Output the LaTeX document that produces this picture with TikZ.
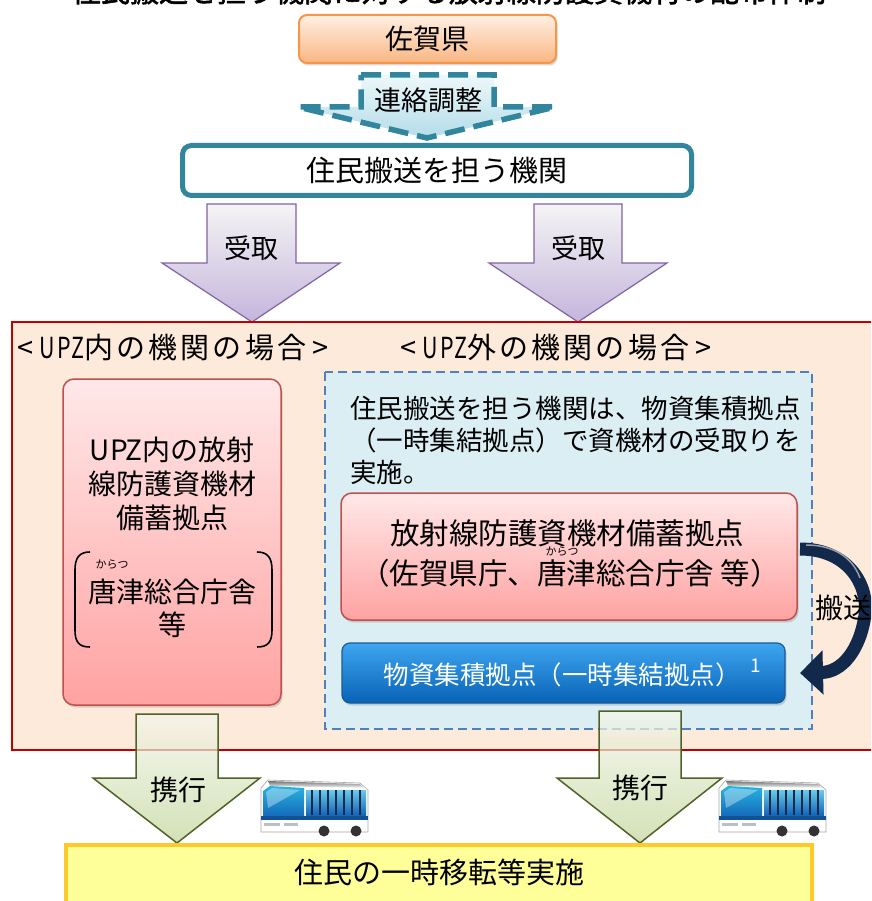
\documentclass[tikz,border=0pt]{standalone}
\usepackage{fontspec}
\setmainfont{Noto Sans CJK JP}
\newfontfamily\titlefont{Noto Sans CJK JP}[FakeBold=2]
\newfontfamily\labfont{Noto Sans CJK JP}[LetterSpace=11]
\usetikzlibrary{shadows,arrows.meta}
\definecolor{orbd}{HTML}{F79646}
\definecolor{ortop}{HTML}{FFF0E4}
\definecolor{orbot}{HTML}{F9B682}
\definecolor{teal}{HTML}{31859C}
\definecolor{ltbtop}{HTML}{EEF8FB}
\definecolor{ltbbot}{HTML}{B3DCE8}
\definecolor{purbd}{HTML}{8064A2}
\definecolor{purtop}{HTML}{F4F4F4}
\definecolor{purbot}{HTML}{C4B5DC}
\definecolor{regfill}{HTML}{FDEADA}
\definecolor{regbd}{HTML}{C00000}
\definecolor{pkbd}{HTML}{C0504D}
\definecolor{pktop}{HTML}{FFE8E8}
\definecolor{pkbot}{HTML}{FFA2A2}
\definecolor{dbfill}{HTML}{DAEEF3}
\definecolor{dbbd}{HTML}{4F81BD}
\definecolor{bltop}{HTML}{3EA6F0}
\definecolor{blbot}{HTML}{0862B6}
\definecolor{blbd}{HTML}{1B5A96}
\definecolor{navy}{HTML}{13294B}
\definecolor{grbd}{HTML}{4F6228}
\definecolor{grtop}{HTML}{F4F6EC}
\definecolor{grbot}{HTML}{C3D69B}
\definecolor{yefill}{HTML}{FFFF99}
\definecolor{yebd}{HTML}{FFC929}
\definecolor{buswin}{HTML}{27B4E0}
\definecolor{buswin2}{HTML}{1466B8}
\tikzset{
  f28/.style={font=\fontsize{28}{34}\selectfont},
  f27/.style={font=\fontsize{27}{32}\selectfont},
  shad/.style={drop shadow={shadow xshift=1.5pt,shadow yshift=-2.5pt,opacity=0.3}},
  sagabox/.style={draw=orbd,line width=2pt,rounded corners=8pt,top color=ortop,bottom color=orbot,shad,f28,minimum width=257pt,minimum height=48pt},
  kikanbox/.style={draw=teal,line width=5pt,rounded corners=9pt,fill=white,font=\fontsize{29}{34}\selectfont,minimum width=509pt,minimum height=50pt},
  dasharrow/.style={draw=teal,line width=5.5pt,dash pattern=on 20pt off 9pt,top color=ltbtop,bottom color=ltbbot},
  purarrow/.style={draw=purbd,line width=1.2pt,top color=purtop,bottom color=purbot,line join=miter},
  region/.style={draw=regbd,line width=2pt,fill=regfill},
  pinkbox/.style={draw=pkbd,line width=1.5pt,rounded corners=11pt,top color=pktop,bottom color=pkbot,shad},
  dashbox/.style={draw=dbbd,line width=2.5pt,dash pattern=on 9pt off 5pt,fill=dbfill},
  bluebox/.style={draw=blbd,line width=1.2pt,rounded corners=8pt,top color=bltop,bottom color=blbot,shad},
  grarrow/.style={draw=grbd,line width=1.5pt,top color=grtop,bottom color=grbot,fill opacity=0.72,line join=miter},
  yebox/.style={draw=yebd,line width=4.5pt,fill=yefill},
  txt/.style={inner sep=0pt,f28},
  lab/.style={inner sep=0pt,anchor=west,font=\labfont\fontsize{29}{32}\selectfont},
  ruby/.style={inner sep=0pt,font=\fontsize{11}{12}\selectfont},
  brk/.style={draw=black,line width=1.6pt},
}
\newcommand\upz{\scalebox{0.74}[1]{UPZ}}
\newcommand\drawbus[2]{%
\begin{scope}[shift={(#1,#2)}]
  \path[draw=black!35,line width=0.6pt,fill=white] (1,10) -- (8,2) -- (100,5) -- (108,12) -- (108,54) -- (1,54) -- cycle;
  \path[top color=black!55,bottom color=white] (8,3) -- (100,6) -- (104,10) -- (10,8) -- cycle;
  \path[top color=buswin,bottom color=buswin2] (3,13) -- (10,8) -- (44,10) -- (44,38) -- (3,40) -- cycle;
  \path[fill=white,opacity=0.35] (6,14) -- (12,10) -- (40,12) -- (8,30) -- cycle;
  \path[top color=buswin!70!white,bottom color=buswin2] (46,12) rectangle (106,37);
  \foreach \xx in {52,60,68,76,84,92,100}{\draw[navy,line width=1.3pt] (\xx,12) -- (\xx,37);}
  \path[fill=buswin2!80!black] (1,38) rectangle (108,42);
  \path[fill=black!25] (4,45) rectangle (20,48);
  \path[fill=black!25] (24,45) rectangle (38,48);
  \path[fill=black!80] (64,53) circle (5.5);
  \path[fill=black!80] (96,53) circle (5.5);
\end{scope}}
\begin{document}
\begin{tikzpicture}[x=1pt,y=-1pt]
\useasboundingbox (0,0) rectangle (871,901);
\clip (0,0) rectangle (871,901);
\path[fill=white] (0,0) rectangle (871,901);
% title (cut off at top, as in the source)
\node[font=\titlefont\fontsize{29}{32}\selectfont,inner sep=0pt] (title) at (449,-9) {住民搬送を担う機関に対する放射線防護資機材の配布体制};
% Saga prefecture
\node[sagabox] (saga) at (427.5,39) {佐賀県};
% dashed arrow
\path[dasharrow] (361,75) -- (494,75) -- (494,107) -- (555,107) -- (427,138) -- (298,107) -- (361,107) -- cycle;
\node[f27,inner sep=0pt] (renraku) at (428,100) {連絡調整};
% transport body
\node[kikanbox] (kikan) at (437,170.5) {住民搬送を担う機関};
% purple arrows
\path[purarrow] (207,204) -- (296,204) -- (296,263) -- (340,263) -- (252,322) -- (162,263) -- (207,263) -- cycle;
\path[purarrow] (534,204) -- (622,204) -- (622,263) -- (667,263) -- (578,322) -- (489,263) -- (534,263) -- cycle;
\node[f27,inner sep=0pt] (uke1) at (251.5,248) {受取};
\node[f27,inner sep=0pt] (uke2) at (578,248) {受取};
% region
\path[region] (12,322) rectangle (885,750);
\node[lab] (lab1) at (17,348) {<\hspace{6pt}\upz 内の機関の場合\hspace{6pt}>};
\node[lab] (lab2) at (400,348) {<\hspace{6pt}\upz 外の機関の場合\hspace{6pt}>};
% left pink box
\path[pinkbox] (63,379) rectangle (281,705);
\node[txt,align=center] (lt) at (172,484) {UPZ内の放射\\線防護資機材\\備蓄拠点};
\path[brk] (90,552) .. controls (79,552) and (75,558) .. (75,570) -- (75,630) .. controls (75,642) and (79,647) .. (90,647);
\path[brk] (257,552) .. controls (268,552) and (272,558) .. (272,570) -- (272,630) .. controls (272,642) and (268,647) .. (257,647);
\node[ruby] (rb1) at (112,565) {からつ};
\node[txt] (kara1) at (172,592) {唐津総合庁舎};
\node[txt] (tou1) at (172,625) {等};
% dashed blue box
\path[dashbox] (325,372) rectangle (812,729);
\node[inner sep=0pt,anchor=west,font=\fontsize{26.5}{32}\selectfont] (d1) at (350,408) {住民搬送を担う機関は、物資集積拠点};
\node[inner sep=0pt,anchor=west,font=\fontsize{26.5}{32}\selectfont] (d2) at (350,440) {（一時集結拠点）で資機材の受取りを};
\node[inner sep=0pt,anchor=west,font=\fontsize{26.5}{32}\selectfont] (d3) at (350,472) {実施。};
% pink box 2
\path[pinkbox] (341,493) rectangle (797,620);
\node[inner sep=0pt,font=\fontsize{29.5}{34}\selectfont] (p1) at (567,533) {放射線防護資機材備蓄拠点};
\node[ruby] (rb2) at (562,552) {からつ};
\node[inner sep=0pt,font=\fontsize{29.5}{34}\selectfont] (p2) at (570,573) {（佐賀県庁、唐津総合庁舎 等）};
% blue box
\node[bluebox,minimum width=443pt,minimum height=60pt] (blue) at (563.5,673) {};
\node[inner sep=0pt,text=white,font=\fontsize{25.5}{28}\selectfont] (bt) at (562,675) {物資集積拠点（一時集結拠点）};
\node[inner sep=0pt,text=white,font=\fontsize{19}{20}\selectfont] (sup1) at (756,666) {1};
% curved arrow
\coordinate (cs) at (800,549);
\coordinate (ce) at (800,673);
\draw[navy,line width=13pt,-{Triangle[length=23pt,width=43pt]}] (cs) .. controls (848,549) and (869,585) .. (865,615) .. controls (860,650) and (842,672) .. (ce);
\draw[white,opacity=0.55,line width=1.5pt] (806,545) .. controls (832,545) and (852,556) .. (860,578);
\node[f28,inner sep=0pt,anchor=west] (hanso) at (815,608) {搬送};
% green arrows
\path[grarrow] (136,714) -- (218,714) -- (218,778) -- (260,778) -- (177,843) -- (93,778) -- (136,778) -- cycle;
\path[grarrow] (599,711) -- (681,711) -- (681,778) -- (722,778) -- (640,843) -- (557,778) -- (599,778) -- cycle;
\node[f28,inner sep=0pt] (kei1) at (178,790) {携行};
\node[f28,inner sep=0pt] (kei2) at (640,788) {携行};
% buses
\drawbus{260}{778}
\drawbus{718}{778}
% yellow box
\path[yebox] (66,845) rectangle (812,906);
\node[inner sep=0pt,font=\fontsize{29}{34}\selectfont] (yt) at (439,872) {住民の一時移転等実施};
\end{tikzpicture}
\end{document}
